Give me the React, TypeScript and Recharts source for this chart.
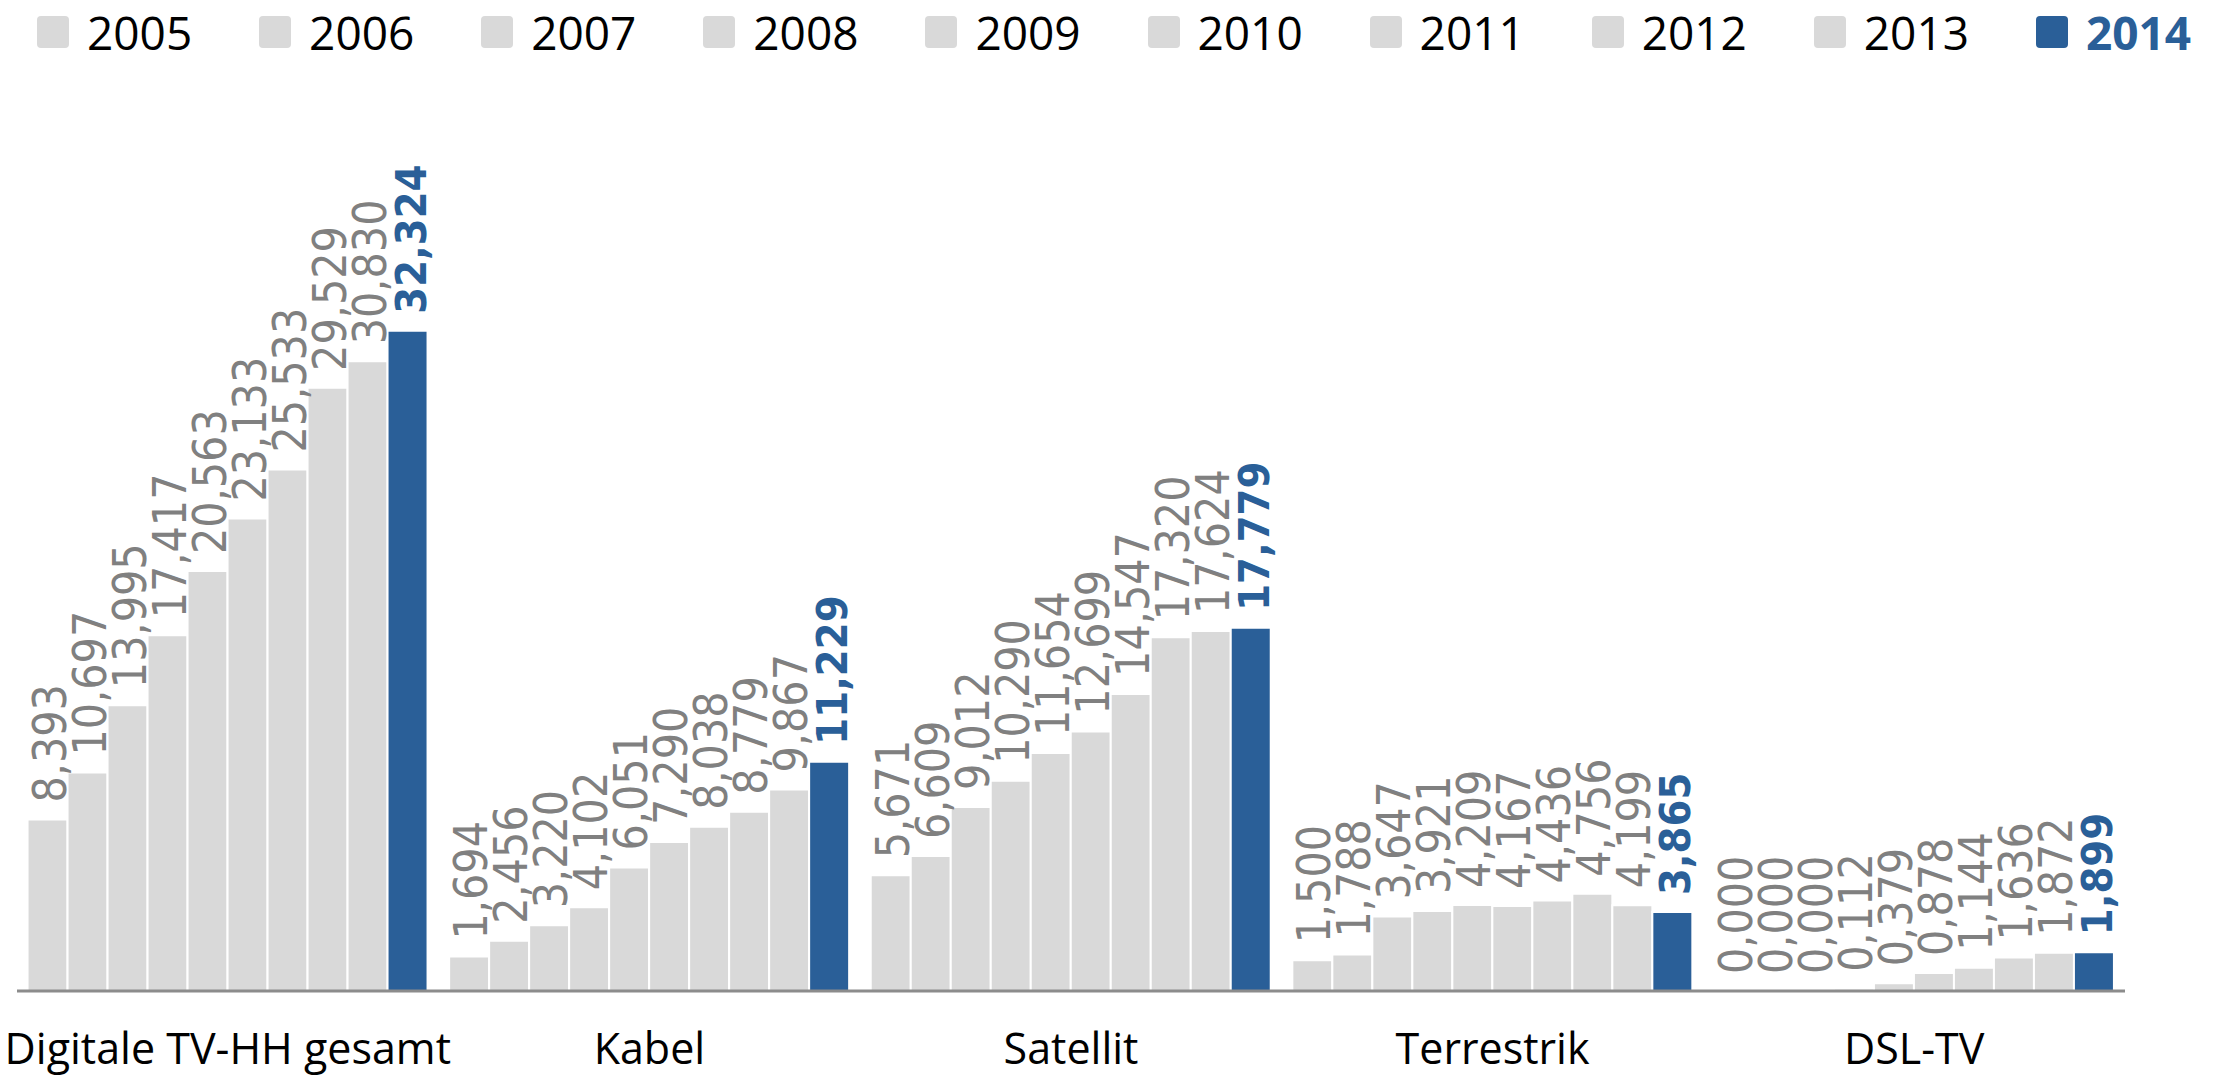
import React from 'react';
import { BarChart, Bar, XAxis, YAxis, Legend, Cell } from 'recharts';

const categories = ['Digitale TV-HH gesamt', 'Kabel', 'Satellit', 'Terrestrik', 'DSL-TV'];
const years = ['2005', '2006', '2007', '2008', '2009', '2010', '2011', '2012', '2013', '2014'];

const digitalGesamt = [8.393, 10.697, 13.995, 17.417, 20.563, 23.133, 25.533, 29.529, 30.83, 32.324];
const kabel = [1.694, 2.456, 3.22, 4.102, 6.051, 7.29, 8.038, 8.779, 9.867, 11.229];
const satellit = [5.671, 6.609, 9.012, 10.29, 11.654, 12.699, 14.547, 17.32, 17.624, 17.779];
const terrestrik = [1.5, 1.788, 3.647, 3.921, 4.209, 4.167, 4.436, 4.756, 4.199, 3.865];
const dslTv = [0, 0, 0, 0.112, 0.379, 0.878, 1.144, 1.636, 1.872, 1.899];

const seriesByCategory = [digitalGesamt, kabel, satellit, terrestrik, dslTv];

const data = categories.map((cat, ci) => {
  const row: Record<string, any> = { cat };
  years.forEach((y, yi) => {
    row[y] = seriesByCategory[ci][yi];
  });
  return row;
});

const GRAY = '#d9d9d9';
const BLUE = '#2a5f98';
const LABEL_GRAY = '#808080';

const fmt = (v: number) => v.toFixed(3).replace('.', ',');

const makeLabel = (highlight: boolean, key: string) => (props: any) => {
  const { x, y, width, height, index } = props;
  const value = data[index] ? data[index][key] : props.value;
  const base = Number(y) + (Number(value) === 0 ? Number(height) : 0);
  const px = Number(x) + Number(width) - 2;
  const py = base - 17;
  return (
    <text
      key={`lbl-${key}-${index}`}
      x={px}
      y={py}
      transform={`rotate(-90, ${px}, ${py})`}
      textAnchor="start"
      fill={highlight ? BLUE : LABEL_GRAY}
      fontSize={highlight ? 43 : 46}
      fontWeight={highlight ? 'bold' : 'normal'}
      style={{ fontFamily: "'DejaVu Sans Condensed', 'DejaVu Sans'", fontStretch: 'condensed' }}
    >
      {fmt(Number(value))}
    </text>
  );
};

const CatTick = (props: any) => {
  const { x, y, payload } = props;
  return (
    <text
      x={x}
      y={Number(y) + 73}
      textAnchor="middle"
      fill="#000"
      fontSize={43}
      style={{ fontFamily: "'Open Sans'" }}
    >
      {payload.value}
    </text>
  );
};

const renderLegend = () => (
  <div style={{ position: 'relative', width: 2214, height: 80 }}>
    {years.map((y, i) => {
      const hl = i === years.length - 1;
      return (
        <div
          key={y}
          style={{
            position: 'absolute',
            left: 37 + i * 222.1,
            top: 0,
            height: 64,
            display: 'flex',
            alignItems: 'center',
          }}
        >
          <div
            style={{
              width: 32,
              height: 32,
              borderRadius: 4,
              background: hl ? BLUE : GRAY,
              marginRight: 18,
            }}
          />
          <span
            style={{
              fontFamily: "'Open Sans'",
              fontSize: 46,
              lineHeight: '64px',
              color: hl ? BLUE : '#000',
              fontWeight: hl ? 'bold' : 'normal',
            }}
          >
            {y}
          </span>
        </div>
      );
    })}
  </div>
);

export default function App() {
  return (
    <div style={{ position: 'absolute', left: 0, top: 0, width: 2214, height: 1076, background: '#fff' }}>
      <BarChart
        width={2214}
        height={1076}
        data={data}
        margin={{ top: 174, right: 89, bottom: 0, left: 17 }}
        barCategoryGap="2.5%"
        barGap={0}
      >
        <XAxis
          dataKey="cat"
          height={85}
          tickLine={false}
          tickSize={0}
          tickMargin={0}
          axisLine={{ stroke: '#8c8c8c', strokeWidth: 3 }}
          tick={<CatTick />}
          interval={0}
        />
        <YAxis hide width={0} domain={[0, 40]} />
        <Legend
          verticalAlign="middle"
          layout="horizontal"
          wrapperStyle={{ top: 0, left: 0, width: 2214, height: 80 }}
          content={renderLegend}
        />
        {years.map((y, i) => {
          const hl = i === years.length - 1;
          return (
            <Bar
              key={y}
              dataKey={y}
              fill={hl ? BLUE : GRAY}
              stroke="#ffffff"
              strokeWidth={2}
              minPointSize={(v: number) => (v === 0 ? 0.01 : 0)}
              isAnimationActive={false}
              label={makeLabel(hl, y)}
            >
              {data.map((row, ri) => (
                <Cell
                  key={`c-${y}-${ri}`}
                  fill={row[y] === 0 ? 'none' : hl ? BLUE : GRAY}
                  stroke={row[y] === 0 ? 'none' : '#ffffff'}
                />
              ))}
            </Bar>
          );
        })}
      </BarChart>
    </div>
  );
}
